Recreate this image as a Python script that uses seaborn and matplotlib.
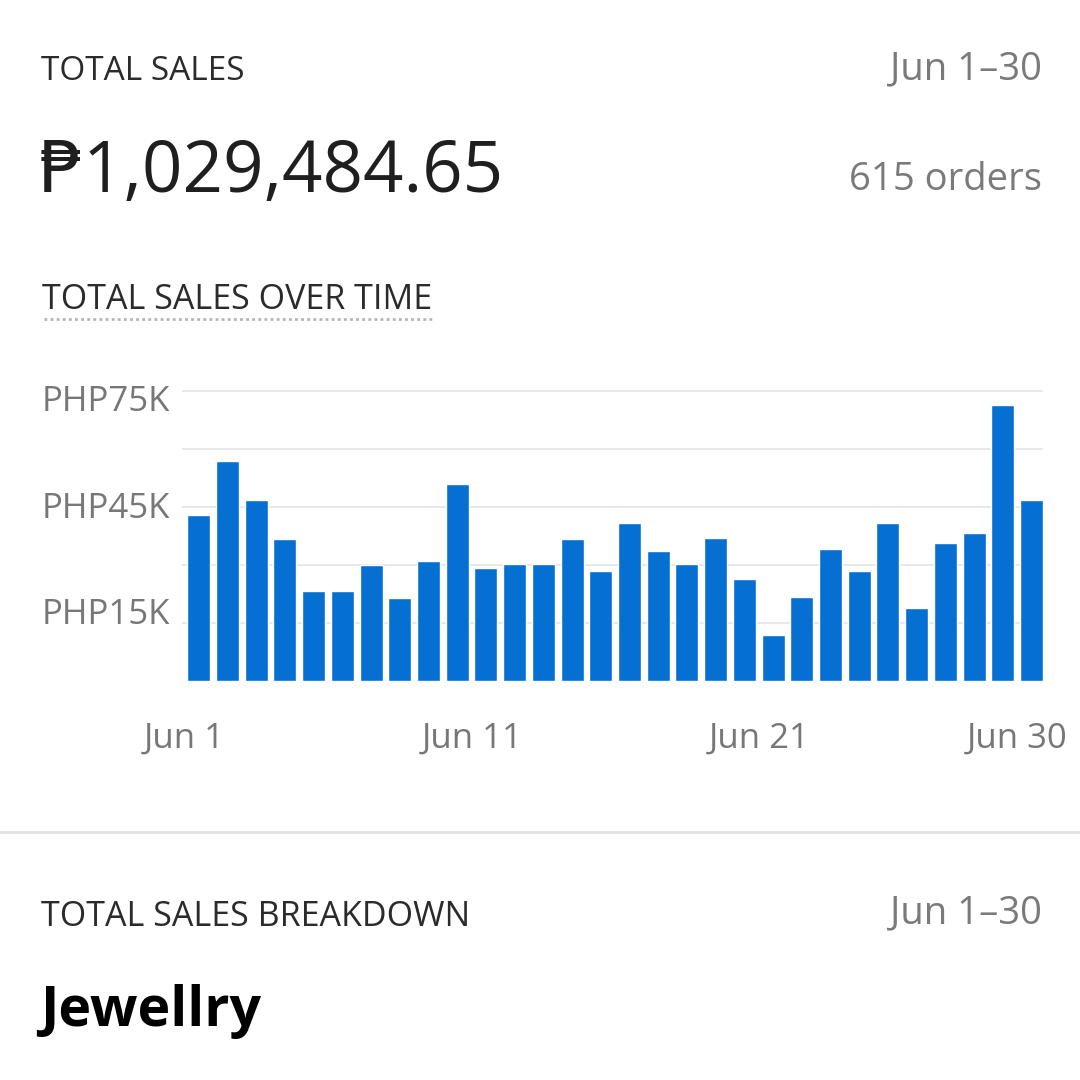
import matplotlib
matplotlib.use("Agg")
import matplotlib.pyplot as plt
import matplotlib.transforms as mtransforms
from matplotlib.lines import Line2D
import seaborn as sns

# Daily total sales for June (PHP)
days = [f"Jun {d}" for d in range(1, 31)]
sales = [42900, 56900, 46800, 36600, 23300, 23300, 29900, 21400, 31000, 50900,
         29100, 30300, 30300, 36600, 28400, 40800, 33600, 30300, 36900, 26400,
         11800, 21700, 34200, 28400, 40800, 19000, 35700, 38400, 71400, 46800]

# Axis ticks
y_ticks = [15000, 30000, 45000, 60000, 75000]
y_tick_labels = ["PHP15K", "", "PHP45K", "", "PHP75K"]
x_tick_pos = [0, 10, 20, 29]
x_tick_labels = ["Jun 1", "Jun 11", "Jun 21", "Jun 30"]

# Header texts
total_sales = "\u20b11,029,484.65"
orders = "615 orders"
date_range = "Jun 1\u201330"
category = "Jewellry"

sns.set_style("white")
plt.rcParams['font.family'] = ['Open Sans', 'DejaVu Sans']

W = 1080
fig = plt.figure(figsize=(10.8, 10.8), dpi=100)
fig.patch.set_facecolor("white")


def fx(px):
    return px / W


def fy(px):
    return 1 - px / W


# Bar chart area (placed in pixel coords of the 1080 canvas)
ax_left, ax_right, ax_bottom = 181.5, 1043, 681
y_max = 78000
ax_top = ax_bottom - y_max / 15000 * 58
ax = fig.add_axes([fx(ax_left), fy(ax_bottom), fx(ax_right - ax_left), (ax_bottom - ax_top) / W])

sns.barplot(x=days, y=sales, color="#0670D2", saturation=1, width=0.8, ax=ax, zorder=3)

ax.set_xlim(-0.6, 29.4)
ax.set_ylim(0, y_max)
ax.set_yticks(y_ticks)
ax.set_yticklabels(y_tick_labels)
ax.set_xticks(x_tick_pos)
ax.set_xticklabels(x_tick_labels)
ax.set_xticks(range(len(days)), minor=True)
ax.set_xlabel("")
ax.set_ylabel("")
ax.grid(axis="y", color="#e8e8ec", linewidth=1.5, zorder=0)
ax.set_axisbelow(True)
for s in ax.spines.values():
    s.set_visible(False)

ax.tick_params(axis="y", length=0, pad=8, labelsize=25, labelcolor="#777777")
ax.tick_params(axis="x", which="major", length=14, width=1.2, color="#d4d4d4",
               pad=15, labelsize=25, labelcolor="#777777")
ax.tick_params(axis="x", which="minor", length=5, width=1.2, color="#d4d4d4")

# x labels sit a little left of their tick in the reference
shift = mtransforms.ScaledTranslation(-14 / 100, 0, fig.dpi_scale_trans)
for lab in ax.get_xticklabels():
    lab.set_transform(lab.get_transform() + shift)

# y labels are not exactly centred on their gridlines in the reference
y_label_nudge = [12, 0, 2, 0, -7]
for lab, dy in zip(ax.get_yticklabels(), y_label_nudge):
    lab.set_transform(lab.get_transform() +
                      mtransforms.ScaledTranslation(0, dy / 100, fig.dpi_scale_trans))

# Header block
dark = "#2b2b2b"
grey = "#7a7a7a"
fig.text(fx(41), fy(80), "TOTAL SALES", fontsize=24, color=dark, va="baseline", ha="left")
fig.text(fx(1042), fy(79), date_range, fontsize=27.5, color=grey, va="baseline", ha="right")
fig.text(fx(39), fy(192), total_sales, fontsize=51, color="#1f1f1f", va="baseline", ha="left")
fig.text(fx(1042), fy(190), orders, fontsize=27.5, color=grey, va="baseline", ha="right")

fig.text(fx(42), fy(309), "TOTAL SALES OVER TIME", fontsize=24.5, color=dark, va="baseline", ha="left")
fig.add_artist(Line2D([fx(44), fx(432)], [fy(319), fy(319)], transform=fig.transFigure,
                      color="#b5b5b5", linewidth=2, linestyle=(0, (1, 1.2))))

# Separator and breakdown section
fig.add_artist(Line2D([0, 1], [fy(832), fy(832)], transform=fig.transFigure,
                      color="#e2e2e2", linewidth=2))
fig.text(fx(41), fy(926), "TOTAL SALES BREAKDOWN", fontsize=24.5, color=dark, va="baseline", ha="left")
fig.text(fx(1042), fy(923), date_range, fontsize=27.5, color=grey, va="baseline", ha="right")
fig.text(fx(40), fy(1026), category, fontsize=40, color="black", fontweight="bold",
         va="baseline", ha="left")

plt.savefig("out.png", dpi=100, facecolor="white")
